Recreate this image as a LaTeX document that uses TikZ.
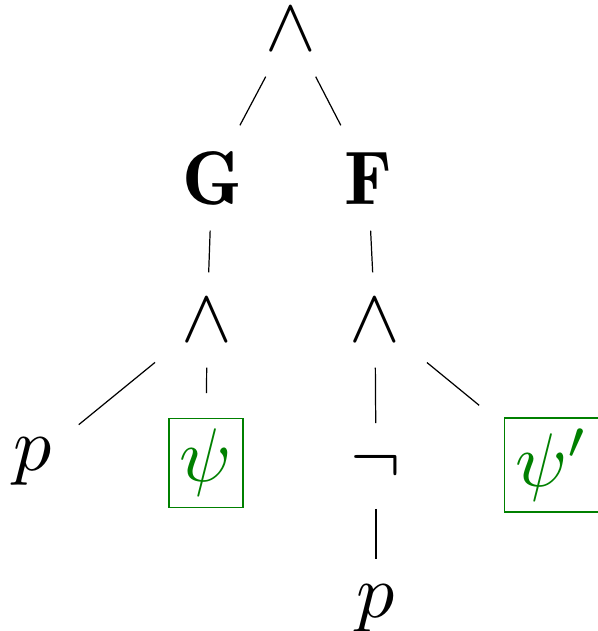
\documentclass[tikz,border=0pt]{standalone}
\usepackage{xcolor}
\usepackage{tikz}

\definecolor{boxgreen}{RGB}{0,128,0}
\DeclareMathAlphabet{\mathbn}{OT1}{cmr}{b}{n}

\begin{document}
\begin{tikzpicture}[
    x=0.1316pt,
    y=-0.1316pt,
    op/.style={
        inner sep=3.3pt
    },
    subformula/.style={
        rectangle,
        draw=boxgreen,
        line width=0.18pt,
        text=boxgreen,
        inner sep=1.45pt,
        outer sep=3.3pt
    },
    branch/.style={line width=0.16pt}
]
\useasboundingbox (0,0) rectangle (597,631);

\node[op] (conj) at (291,29) {$\wedge$};
\node[op] (glob) at (212,178) {$\mathbn{G}$};
\node[op] (fin) at (368,178) {$\mathbn{F}$};
\node[op] (conjg) at (207,320) {$\wedge$};
\node[op] (conjf) at (375,320) {$\wedge$};
\node[op] (atom) at (33,462) {$p$};
\node[subformula] (sub) at (206,463) {$\psi$};
\node[op] (negation) at (376,466) {$\neg$};
\node[subformula] (subprime) at (552,465) {$\psi'$};
\node[op] (atomneg) at (376,609) {$p$};

\draw[branch] (conj) -- (glob);
\draw[branch] (conj) -- (fin);
\draw[branch] (glob) -- (conjg);
\draw[branch] (fin) -- (conjf);
\draw[branch] (conjg) -- (atom);
\draw[branch] (conjg) -- (sub);
\draw[branch] (conjf) -- (negation);
\draw[branch] (conjf) -- (subprime);
\draw[branch] (negation) -- (atomneg);

\end{tikzpicture}
\end{document}
